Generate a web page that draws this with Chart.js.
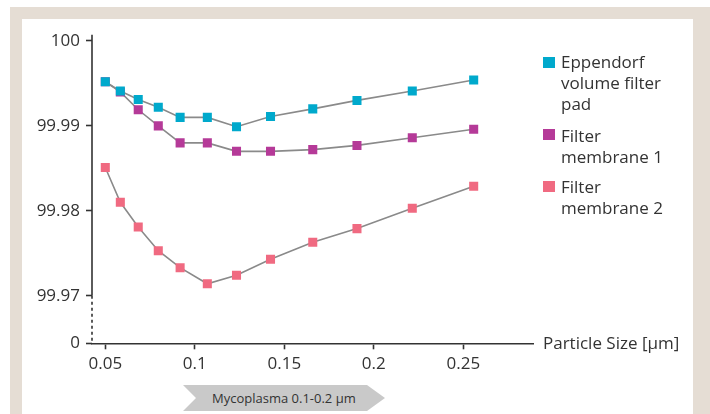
<!DOCTYPE html>
<html>
<head>
<meta charset="utf-8">
<script src="https://cdn.jsdelivr.net/npm/chart.js@4"></script>
<style>
  html, body { margin: 0; padding: 0; background: #fff; }
  body { width: 710px; height: 414px; position: relative; overflow: hidden; font-family: "Open Sans", sans-serif; color: #333; }
  #frame { position: absolute; left: 10px; top: 7px; width: 700px; height: 407px; background: #e5ddd4; }
  #inner { position: absolute; left: 22px; top: 19px; width: 671px; height: 395px; background: #fff; }
  #myChart { position: absolute; left: 0; top: 0; }
  .leg { position: absolute; left: 543px; font-size: 17px; line-height: 21px; }
  .leg i { position: absolute; left: 0; width: 12px; height: 11px; }
  .leg span { position: absolute; left: 18px; white-space: nowrap; }
  #xtitle { position: absolute; left: 543px; top: 331px; font-size: 17px; white-space: nowrap; }
  #arrow { position: absolute; left: 183px; top: 385px; width: 202px; height: 26px; background: #c9c9c9;
           clip-path: polygon(0 0, 184px 0, 202px 13px, 184px 26px, 0 26px, 13px 13px); }
  #arrow span { position: absolute; left: 29px; top: 4px; font-size: 13px; white-space: nowrap; color: #333; }
</style>
</head>
<body>
<div id="frame"></div>
<div id="inner"></div>
<canvas id="myChart" width="710" height="414"></canvas>
<div class="leg" style="top:51px"><i style="top:6px;background:#00a9cc"></i><span>Eppendorf<br>volume filter<br>pad</span></div>
<div class="leg" style="top:125px"><i style="top:4px;background:#b53a98"></i><span>Filter<br>membrane 1</span></div>
<div class="leg" style="top:176px"><i style="top:5px;background:#f06a81"></i><span>Filter<br>membrane 2</span></div>
<div id="xtitle">Particle Size [µm]</div>
<div id="arrow"><span>Mycoplasma 0.1-0.2 µm</span></div>
<script>
// particle sizes and retention values
const sizes = [0.05, 0.0584, 0.0684, 0.0796, 0.0918, 0.107, 0.1233, 0.1423, 0.1659, 0.1906, 0.2215, 0.2558];
const eppendorf = [99.9952, 99.9941, 99.9931, 99.9922, 99.9910, 99.9910, 99.9899, 99.9911, 99.9920, 99.9930, 99.9941, 99.9954];
const membrane1 = [99.9952, 99.9940, 99.9919, 99.9900, 99.9880, 99.9880, 99.9870, 99.9870, 99.9872, 99.9877, 99.9886, 99.9896];
const membrane2 = [99.9851, 99.9810, 99.9781, 99.9753, 99.9733, 99.9714, 99.9724, 99.9743, 99.9763, 99.9779, 99.9803, 99.9829];

const yTickValues = [99.97, 99.98, 99.99, 100];
const yTickLabels = ['99.97', '99.98', '99.99', '100'];
const xTickValues = [0.05, 0.1, 0.15, 0.2, 0.25];
const xTickLabels = ['0.05', '0.1', '0.15', '0.2', '0.25'];

// broken axis: the bottom of the y axis stands for "0"
const yMin = 99.96439;
const yMax = 100.00074;

const axisColor = '#333';

function pts(vals) {
  return sizes.map((s, i) => ({ x: s, y: vals[i] }));
}

function series(label, vals, color) {
  return {
    label: label,
    data: pts(vals),
    showLine: true,
    borderColor: '#8a8a8a',
    borderWidth: 1.6,
    pointStyle: 'rect',
    pointRadius: 6.4,
    pointHoverRadius: 6.4,
    pointBackgroundColor: color,
    pointBorderWidth: 0,
    tension: 0
  };
}

// y axis: solid down to 99.97, dashed below (axis break)
const brokenAxis = {
  id: 'brokenAxis',
  afterDraw(chart) {
    const c = chart.ctx;
    const x = chart.chartArea.left;
    const yBreak = chart.scales.y.getPixelForValue(99.97);
    c.save();
    c.strokeStyle = axisColor;
    c.lineWidth = 1.6;
    c.beginPath();
    c.moveTo(x, chart.chartArea.top);
    c.lineTo(x, yBreak);
    c.stroke();
    c.setLineDash([3, 3]);
    c.beginPath();
    c.moveTo(x, yBreak);
    c.lineTo(x, chart.chartArea.bottom);
    c.stroke();
    c.restore();
  }
};

const ctx = document.getElementById('myChart').getContext('2d');
const myChart = new Chart(ctx, {
  type: 'scatter',
  data: {
    datasets: [
      series('Filter membrane 2', membrane2, '#f06a81'),
      series('Eppendorf volume filter pad', eppendorf, '#00a9cc'),
      series('Filter membrane 1', membrane1, '#b53a98')
    ]
  },
  options: {
    responsive: false,
    animation: false,
    layout: { padding: { top: 34.7, right: 177, bottom: 0, left: 0 } },
    plugins: { legend: { display: false }, tooltip: { enabled: false } },
    scales: {
      x: {
        type: 'linear',
        min: 0.04257,
        max: 0.28894,
        afterBuildTicks: (scale) => { scale.ticks = xTickValues.map(v => ({ value: v })); },
        afterFit: (scale) => { scale.height = 70.7; },
        ticks: {
          autoSkip: false,
          maxRotation: 0,
          padding: 5,
          color: axisColor,
          font: { family: 'Open Sans', size: 17 },
          callback: (v, i) => xTickLabels[i]
        },
        grid: { drawOnChartArea: false, drawTicks: true, tickLength: 6, tickColor: axisColor, tickWidth: 1.6 },
        border: { display: true, color: axisColor, width: 1.6 }
      },
      y: {
        type: 'linear',
        min: yMin,
        max: yMax,
        afterBuildTicks: (scale) => { scale.ticks = [yMin].concat(yTickValues).map(v => ({ value: v })); },
        afterFit: (scale) => { scale.width = 92; },
        ticks: {
          autoSkip: false,
          padding: 6,
          color: axisColor,
          font: { family: 'Open Sans', size: 17 },
          callback: (v, i) => i === 0 ? '0' : yTickLabels[i - 1]
        },
        grid: { drawOnChartArea: false, drawTicks: true, tickLength: 6, tickColor: axisColor, tickWidth: 1.6 },
        border: { display: false }
      }
    }
  },
  plugins: [brokenAxis]
});
</script>
</body>
</html>
